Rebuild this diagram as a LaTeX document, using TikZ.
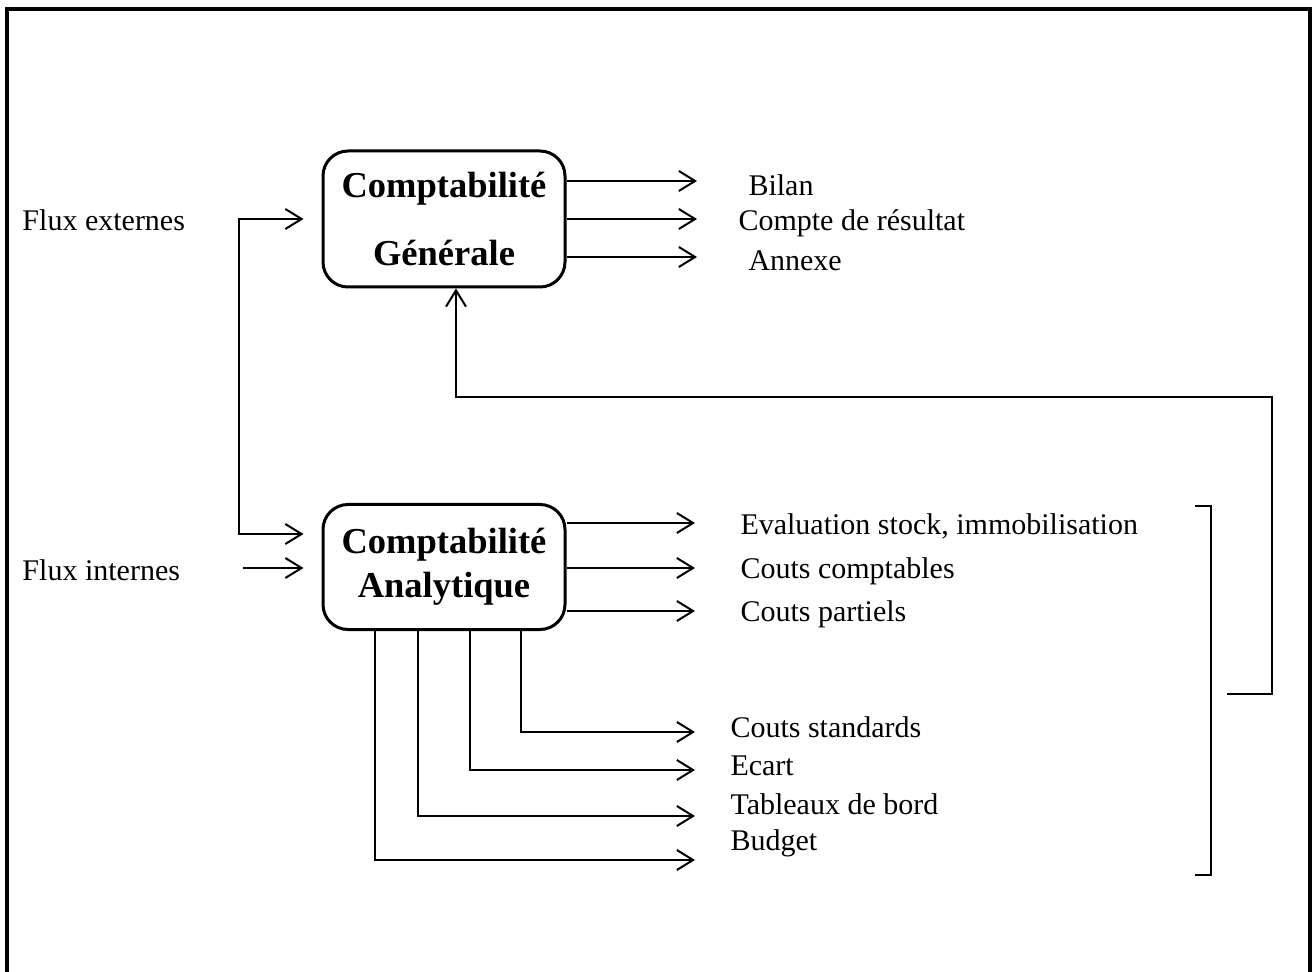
\documentclass[tikz,border=0pt]{standalone}
\usepackage{fontspec}
\setmainfont{Liberation Serif}
\usetikzlibrary{arrows.meta}
\tikzset{
  bloc/.style={draw, line width=1.2pt, rounded corners=10pt, minimum width=96.8pt,
    align=center, inner sep=0pt, font=\fontsize{14.6}{17.5}\selectfont\bfseries},
  lbl/.style={anchor=west, inner sep=0pt, font=\fontsize{12}{14}\selectfont},
  fl/.style={line width=0.8pt, -{Straight Barb[length=6.5pt,width=8pt]}},
  fl2/.style={line width=0.8pt, {Straight Barb[length=6.5pt,width=8pt]}-{Straight Barb[length=6.5pt,width=8pt]}},
}

\begin{document}
\begin{tikzpicture}[x=0.4pt, y=-0.4pt]
  \useasboundingbox (0,0) rectangle (1315,972);
  \draw[line width=1.6pt] (7,972) -- (7,9) -- (1310,9) -- (1310,972);

  % les deux comptabilites
  \node[bloc, minimum height=54.4pt] (gen) at (444,219) {Comptabilit\'e\\[10pt]G\'en\'erale};
  \node[bloc, minimum height=50pt] (ana) at (444,567) {Comptabilit\'e\\Analytique};

  % flux en entree
  \node[lbl] (fe) at (22,220) {Flux externes};
  \node[lbl] (fin) at (22,570) {Flux internes};
  \draw[fl2, shorten <=7.2pt, shorten >=7.2pt] (gen.west) -- ++(-82,0) |- (ana.west |- 0,534);
  \coordinate (fi) at (243,568);
  \draw[fl, shorten >=7.2pt] (fi) -- (ana.west |- fi);

  % sorties de la comptabilite generale
  \foreach \y/\x/\t [count=\i] in {181/748/Bilan, 219/738/Compte de r\'esultat, 257/748/Annexe} {
    \coordinate (g\i) at (697,\y);
    \node[lbl] (gl\i) at (\x,\y+4) {\t};
    \draw[fl] (gen.east |- g\i) -- (g\i);
  }

  % sorties de la comptabilite analytique
  \foreach \y/\t [count=\i] in {523/{Evaluation stock, immobilisation}, 568/Couts comptables, 611/Couts partiels} {
    \coordinate (a\i) at (695,\y);
    \node[lbl] (al\i) at (740,\y+3) {\t};
    \draw[fl] (ana.east |- a\i) -- (a\i);
  }
  \foreach \x/\y/\ly/\t [count=\i] in {521/732/727/Couts standards, 470/770/766/Ecart, 418/816/804/Tableaux de bord, 375/860/843/Budget} {
    \coordinate (b\i) at (695,\y);
    \node[lbl] (bl\i) at (730,\ly) {\t};
    \draw[fl] (\x,0 |- ana.south) |- (b\i);
  }

  % retour vers la comptabilite generale
  \coordinate (fb) at (1227,694);
  \draw[fl] (fb) -- ++(45,0) -- ++(0,-297) -| ([xshift=4.8pt]gen.south);
  \draw[line width=0.8pt] (1195,506) -| (1211,875) -- (1195,875);
\end{tikzpicture}
\end{document}
